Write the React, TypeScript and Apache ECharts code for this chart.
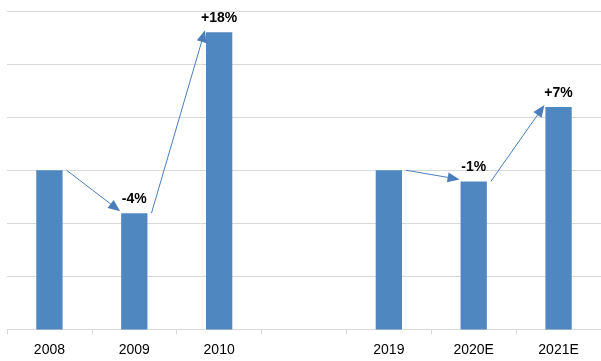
import React, { useEffect, useRef } from "react";
import * as echarts from "echarts";

const categories = ["2008", "2009", "2010", "", "2019", "2020E", "2021E"];
const values: (number | null)[] = [3.0, 2.19, 5.6, null, 3.0, 2.79, 4.19];
const changeLabels = ["", "-4%", "+18%", "", "", "-1%", "+7%"];
// arrows: [from category, to category]
const arrowPairs: [string, string][] = [
  ["2008", "2009"],
  ["2009", "2010"],
  ["2019", "2020E"],
  ["2020E", "2021E"],
];

const BAR_COLOR = "#4F87C0";
const ARROW_COLOR = "#4A7EBB";
const GRID_COLOR = "#D9D9D9";
const BAR_RATIO = 0.31;
const FONT = "'Liberation Sans', Arial, sans-serif";

export default function App() {
  const ref = useRef<HTMLDivElement>(null);
  useEffect(() => {
    if (!ref.current) return;
    const chart = echarts.init(ref.current, null, { renderer: "svg" });
    const arrowData = arrowPairs.map(([a, b]) => {
      const i = categories.indexOf(a);
      const j = categories.indexOf(b);
      return [i, values[i] as number, j, values[j] as number];
    });
    chart.setOption({
      animation: false,
      grid: {
        left: 7,
        right: 0,
        top: 11,
        bottom: 31.5,
        containLabel: false,
        outerBoundsMode: "none",
      },
      xAxis: {
        type: "category",
        data: categories,
        axisLine: { show: true, lineStyle: { color: GRID_COLOR, width: 1 } },
        axisTick: { show: true, length: 5, lineStyle: { color: GRID_COLOR } },
        axisLabel: {
          color: "#000",
          fontSize: 14,
          fontFamily: FONT,
          margin: 12,
          interval: 0,
        },
      },
      yAxis: {
        type: "value",
        min: 0,
        max: 6,
        interval: 1,
        axisLine: { show: false },
        axisTick: { show: false },
        axisLabel: { show: false },
        splitLine: { show: true, lineStyle: { color: GRID_COLOR, width: 1 } },
      },
      series: [
        {
          type: "bar",
          data: values.map((v, i) => ({
            value: v,
            label: {
              show: changeLabels[i] !== "",
              formatter: changeLabels[i],
            },
          })),
          barWidth: `${BAR_RATIO * 100}%`,
          itemStyle: { color: BAR_COLOR },
          label: {
            position: "top",
            distance: 8,
            color: "#000",
            fontSize: 14,
            fontWeight: "bold",
            fontFamily: FONT,
          },
        },
        {
          type: "custom",
          data: arrowData,
          encode: { x: [0, 2], y: [1, 3] },
          clip: false,
          z: 5,
          silent: true,
          renderItem: (params: any, api: any) => {
            const p0 = api.coord([api.value(0), api.value(1)]);
            const p1 = api.coord([api.value(2), api.value(3)]);
            const band = api.size([1, 0])[0];
            const half = (band * BAR_RATIO) / 2;
            const x0 = p0[0] + half + 4;
            const y0 = p0[1];
            const x1 = p1[0] - half - 1;
            const y1 = p1[1] - 2;
            const dx = x1 - x0;
            const dy = y1 - y0;
            const len = Math.hypot(dx, dy);
            const ux = dx / len;
            const uy = dy / len;
            const headLen = 12;
            const headW = 5;
            const bx = x1 - ux * headLen;
            const by = y1 - uy * headLen;
            return {
              type: "group",
              children: [
                {
                  type: "line",
                  shape: { x1: x0, y1: y0, x2: bx + ux * 2, y2: by + uy * 2 },
                  style: { stroke: ARROW_COLOR, lineWidth: 1 },
                },
                {
                  type: "polygon",
                  shape: {
                    points: [
                      [x1, y1],
                      [bx - uy * headW, by + ux * headW],
                      [bx + uy * headW, by - ux * headW],
                    ],
                  },
                  style: { fill: ARROW_COLOR },
                },
              ],
            };
          },
        },
      ],
    });
    return () => chart.dispose();
  }, []);
  return (
    <div
      ref={ref}
      style={{ position: "fixed", left: 0, top: 0, width: 601, height: 361 }}
    />
  );
}
